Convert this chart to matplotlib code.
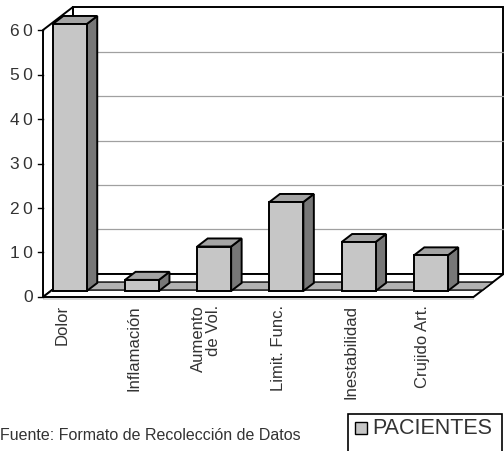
import matplotlib
matplotlib.use("Agg")
import matplotlib.pyplot as plt
from matplotlib.patches import Polygon, Rectangle

CATEGORIES = ["Dolor", "Inflamación", "Aumento\nde Vol.", "Limit. Func.",
              "Inestabilidad", "Crujido Art."]
PACIENTES = [60, 2.5, 10, 20, 11, 8]
SERIES = "PACIENTES"
Y_TICKS = [0, 10, 20, 30, 40, 50, 60]
SOURCE = "Fuente: Formato de Recolección de Datos"

COLORS = {
    "front": "#c6c6c6",
    "top": "#a4a4a4",
    "side": "#777777",
    "band": "#b2b2b2",
    "grid": "#a0a0a0",
    "text": "#333333",
}

# fake 3d: full depth of the box in data units, bars sit between depth A and B
DX, DY = 0.415, 5.17
BAR_A, BAR_B = 0.26, 0.61
BAR_W = 0.47
X0, X1 = -0.263, 5.70
YMAX = Y_TICKS[-1]

plt.rcParams["font.family"] = ["Liberation Sans", "DejaVu Sans"]


def pt(x, y, d):
    return (x + d * DX, y + d * DY)


fig = plt.figure(figsize=(5.04, 4.52), dpi=100)
ax = fig.add_axes([0, 0, 1, 1])
ax.set_xlim(-0.8587, 6.122)
ax.set_ylim(-34.61, 66.97)
ax.axis("off")

lw = 1.4
# walls and floor
ax.add_patch(Polygon([pt(X0, 0, 1), pt(X1, 0, 1), pt(X1, YMAX, 1), pt(X0, YMAX, 1)],
                     fc="white", ec="black", lw=lw, zorder=1))
ax.add_patch(Polygon([pt(X0, 0, 0), pt(X0, 0, 1), pt(X0, YMAX, 1), pt(X0, YMAX, 0)],
                     fc="white", ec="black", lw=lw, zorder=1))
# thin slab under the floor front edge
ax.add_patch(Polygon([pt(X0, 0, 0), pt(X1, 0, 0), pt(X1, -0.7, 0), pt(X0, -0.7, 0)],
                     fc="#d8d8d8", ec="none", zorder=1.4))
ax.add_patch(Polygon([pt(X0, 0, 0), pt(X1, 0, 0), pt(X1, 0, 1), pt(X0, 0, 1)],
                     fc="white", ec="black", lw=lw, zorder=1.5))
ax.add_patch(Polygon([pt(X0, 0, 0.30), pt(X1, 0, 0.30), pt(X1, 0, 0.65), pt(X0, 0, 0.65)],
                     fc=COLORS["band"], ec="black", lw=1.0, zorder=1.6))

for v in Y_TICKS[1:-1]:
    ax.plot([X0 + DX, X1 + DX], [v + DY, v + DY], color=COLORS["grid"], lw=0.9, zorder=1.2)

for v in Y_TICKS:
    ax.plot([X0 - 0.07, X0], [v, v], color="black", lw=1.0, zorder=2)
    ax.text(-0.40, v, "\u2009".join(str(v)), ha="right", va="center", fontsize=12.5,
            color=COLORS["text"])

# bars
xs = list(range(len(CATEGORIES)))
for x, v in zip(xs, PACIENTES):
    l, r = x - BAR_W / 2, x + BAR_W / 2
    ax.add_patch(Polygon([pt(r, 0, BAR_A), pt(r, 0, BAR_B), pt(r, v, BAR_B), pt(r, v, BAR_A)],
                         fc=COLORS["side"], ec="black", lw=lw, zorder=3))
    ax.add_patch(Polygon([pt(l, v, BAR_A), pt(r, v, BAR_A), pt(r, v, BAR_B), pt(l, v, BAR_B)],
                         fc=COLORS["top"], ec="black", lw=lw, zorder=3))
ax.bar([x + BAR_A * DX for x in xs], PACIENTES, width=BAR_W, bottom=BAR_A * DY,
       color=COLORS["front"], edgecolor="black", linewidth=lw, zorder=4)

for x, label in zip(xs, CATEGORIES):
    ax.text(x, -1.6, label, rotation=90, ha="center", va="top", multialignment="right",
            fontsize=12, color=COLORS["text"], linespacing=1.0)

# source note and legend box
fig.text(0.0, 0.0376, SOURCE, ha="left", va="center", fontsize=11.5, color=COLORS["text"])
fig.patches.append(Rectangle((0.690, -0.02), 0.306, 0.102, transform=fig.transFigure,
                             fill=False, ec="black", lw=1.2))
fig.patches.append(Rectangle((0.7044, 0.0376), 0.0238, 0.0265, transform=fig.transFigure,
                             fc=COLORS["front"], ec="black", lw=1.0))
fig.text(0.738, 0.051, SERIES, ha="left", va="center", fontsize=15.5, color=COLORS["text"])

fig.savefig("out.png", dpi=100, facecolor="white")
plt.close(fig)
